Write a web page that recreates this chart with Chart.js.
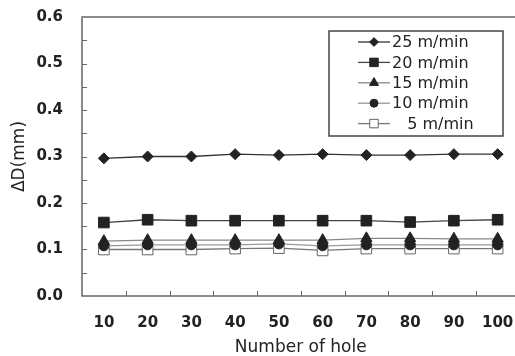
<!DOCTYPE html>
<html>
<head>
<meta charset="utf-8">
<script src="https://cdn.jsdelivr.net/npm/chart.js@4"></script>
<style>
  html, body { margin: 0; padding: 0; background: #fff; overflow: hidden; }
  #wrap { width: 515px; height: 356px; overflow: hidden; }
</style>
</head>
<body>
<div id="wrap"><canvas id="chart" width="528" height="356"></canvas></div>
<script>
let holes = ['10', '20', '30', '40', '50', '60', '70', '80', '90', '100'];
let speeds = ['25 m/min', '20 m/min', '15 m/min', '10 m/min', '   5 m/min'];
let v25 = [0.296, 0.300, 0.300, 0.305, 0.303, 0.305, 0.303, 0.303, 0.305, 0.305];
let v20 = [0.158, 0.164, 0.162, 0.162, 0.162, 0.162, 0.162, 0.159, 0.162, 0.164];
let v15 = [0.118, 0.120, 0.120, 0.120, 0.120, 0.120, 0.124, 0.124, 0.123, 0.123];
let v10 = [0.108, 0.110, 0.110, 0.110, 0.112, 0.108, 0.110, 0.110, 0.110, 0.110];
let v5 = [0.100, 0.100, 0.100, 0.102, 0.103, 0.098, 0.102, 0.102, 0.102, 0.102];
let yTicks = [0, 0.1, 0.2, 0.3, 0.4, 0.5, 0.6];

let font = '"DejaVu Sans", Verdana, sans-serif';

function series(label, data, style, line, fill, border, radius) {
    return {
        label: label,
        data: data,
        pointStyle: style,
        borderColor: line,
        borderWidth: 1.3,
        pointBackgroundColor: fill,
        pointBorderColor: border,
        pointBorderWidth: 1,
        pointRadius: radius,
        tension: 0
    };
}

// frame, inward tick marks and the boxed legend
let decorations = {
    id: 'decorations',
    afterDraw(chart) {
        let ctx = chart.ctx;
        let a = chart.chartArea;
        let x = chart.scales.x, y = chart.scales.y;
        ctx.save();
        ctx.strokeStyle = '#666';
        ctx.lineWidth = 1.5;
        ctx.strokeRect(a.left, a.top, a.right - a.left + 2, a.bottom - a.top);
        ctx.lineWidth = 1;
        ctx.beginPath();
        for (let v = 0.05; v < 0.6; v += 0.05) {
            let py = Math.round(y.getPixelForValue(v)) + 0.5;
            ctx.moveTo(a.left, py);
            ctx.lineTo(a.left + 5, py);
        }
        let step = x.getPixelForValue(1) - x.getPixelForValue(0);
        for (let i = 0; i < holes.length - 1; i++) {
            let px = Math.round(x.getPixelForValue(i) + step / 2) + 0.5;
            ctx.moveTo(px, a.bottom);
            ctx.lineTo(px, a.bottom - 5);
        }
        ctx.stroke();

        // legend
        let lx = 329, ly = 31, lw = 174, lh = 105;
        ctx.fillStyle = '#fff';
        ctx.fillRect(lx, ly, lw, lh);
        ctx.strokeStyle = '#444';
        ctx.lineWidth = 1.5;
        ctx.strokeRect(lx, ly, lw, lh);
        ctx.font = '16px ' + font;
        ctx.textBaseline = 'middle';
        chart.data.datasets.forEach((ds, i) => {
            let ry = 42 + i * 20.4;
            ctx.strokeStyle = ds.borderColor;
            ctx.lineWidth = 1.3;
            ctx.beginPath();
            ctx.moveTo(358, ry);
            ctx.lineTo(390, ry);
            ctx.stroke();
            ctx.fillStyle = ds.pointBackgroundColor;
            ctx.strokeStyle = ds.pointBorderColor;
            ctx.lineWidth = 1;
            Chart.helpers.drawPoint(ctx, { pointStyle: ds.pointStyle, radius: ds.pointRadius * 0.8, borderWidth: 1 }, 374, ry);
            ctx.fillStyle = '#222';
            ctx.fillText(ds.label, 392, ry + 1);
        });
        ctx.restore();
    }
};

let chart = new Chart(document.getElementById('chart').getContext('2d'), {
    type: 'line',
    data: {
        labels: holes,
        datasets: [
            series(speeds[0], v25, 'rectRot', '#333', '#222', '#222', 5.5),
            series(speeds[1], v20, 'rect', '#444', '#222', '#222', 7.5),
            series(speeds[2], v15, 'triangle', '#888', '#222', '#222', 6.5),
            series(speeds[3], v10, 'circle', '#999', '#222', '#222', 5),
            series(speeds[4], v5, 'rect', '#777', '#fff', '#666', 7.5)
        ]
    },
    options: {
        responsive: false,
        animation: false,
        layout: { padding: { left: 0, right: 0, top: 17, bottom: 0 } },
        plugins: {
            legend: { display: false },
            tooltip: { enabled: false }
        },
        scales: {
            x: {
                offset: true,
                grid: { display: false, drawTicks: false },
                border: { display: false },
                ticks: { color: '#222', padding: 18, font: { family: font, size: 15, weight: 'bold' }, maxRotation: 0 },
                title: { display: true, text: 'Number of hole', color: '#222', padding: { top: 4, bottom: 0 }, font: { family: font, size: 17, lineHeight: 1 } },
                afterFit(s) { s.height = 60; s.paddingLeft = 0; s.paddingRight = 0; }
            },
            y: {
                min: 0,
                max: 0.6,
                afterBuildTicks(s) { s.ticks = yTicks.map(v => ({ value: v })); },
                grid: { display: false, drawTicks: false },
                border: { display: false },
                ticks: { color: '#222', padding: 19, font: { family: font, size: 15, weight: 'bold' }, callback: v => v.toFixed(1) },
                title: { display: true, text: 'ΔD(mm)', color: '#222', padding: { top: 11, bottom: 0 }, font: { family: font, size: 17, lineHeight: 1 } },
                afterFit(s) { s.width = 82; s.paddingTop = 0; s.paddingBottom = 0; }
            }
        }
    },
    plugins: [decorations]
});
</script>
</body>
</html>
